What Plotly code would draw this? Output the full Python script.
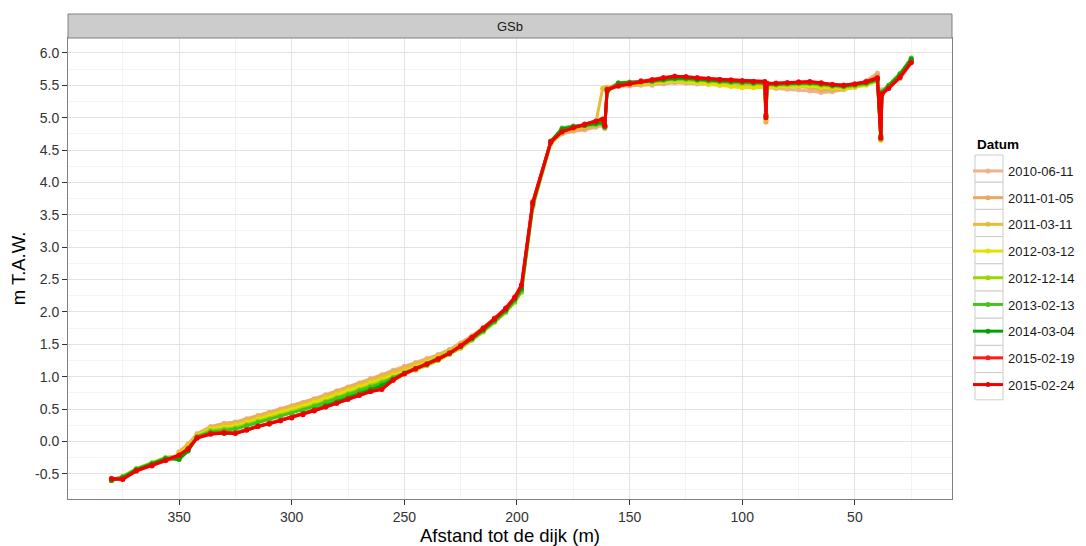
import plotly.graph_objects as go

# ---------------- data ----------------
afstand = [380, 375, 369, 362, 356, 350, 346, 342, 336, 330, 325, 320, 315, 310, 305,
           300, 295, 290, 285, 280, 275, 270, 265, 260, 255, 250, 245, 240, 235, 230,
           225, 220, 215, 210, 205, 201, 198, 193, 185, 180, 175, 170, 165, 162, 161,
           160, 155, 150, 145, 140, 135, 130, 125, 120, 115, 110, 105, 100, 95, 90,
           89.5, 89, 85, 80, 75, 70, 65, 60, 55, 50, 45, 40, 38.5, 38, 35, 30, 25]

datums = ["2010-06-11", "2011-01-05", "2011-03-11", "2012-03-12", "2012-12-14",
          "2013-02-13", "2014-03-04", "2015-02-19", "2015-02-24"]

h_2010_06_11 = [None, None, None, None, None, -0.16, -0.04, 0.12, 0.23, 0.28, 0.30, 0.35, 0.40, 0.45, 0.50,
                0.55, 0.60, 0.66, 0.72, 0.78, 0.84, 0.90, 0.97, 1.03, 1.10, 1.16, 1.22, 1.28, 1.34, 1.42,
                1.52, 1.63, 1.76, 1.90, 2.06, 2.22, 2.38, 3.70, 4.63, 4.75, 4.79, 4.81, 4.85, 4.88, 4.83,
                5.43, 5.48, 5.49, 5.50, 5.50, 5.52, 5.54, 5.53, 5.52, 5.51, 5.50, 5.49, 5.48, 5.47, 5.47,
                4.93, 5.46, 5.45, 5.44, 5.43, 5.41, 5.39, 5.40, 5.43, 5.48, 5.57, 5.69, 4.68, 5.43, 5.48, 5.60, 5.84]
h_2011_01_05 = [None, None, None, None, None, -0.17, -0.05, 0.11, 0.22, 0.27, 0.29, 0.34, 0.39, 0.44, 0.49,
                0.54, 0.59, 0.65, 0.71, 0.77, 0.83, 0.89, 0.95, 1.01, 1.08, 1.14, 1.20, 1.26, 1.33, 1.41,
                1.51, 1.62, 1.75, 1.89, 2.05, 2.21, 2.37, 3.69, 4.62, 4.76, 4.80, 4.83, 4.87, 4.90, 4.84,
                5.44, 5.49, 5.50, 5.51, 5.52, 5.54, 5.56, 5.55, 5.54, 5.53, 5.52, 5.51, 5.50, 5.49, 5.49,
                4.95, 5.48, 5.47, 5.48, 5.48, 5.46, 5.43, 5.43, 5.44, 5.47, 5.54, 5.66, 4.67, 5.41, 5.47, 5.62, 5.86]
h_2011_03_11 = [None, None, None, None, None, -0.18, -0.06, 0.10, 0.21, 0.25, 0.27, 0.32, 0.37, 0.42, 0.47,
                0.52, 0.57, 0.63, 0.69, 0.75, 0.81, 0.87, 0.93, 0.99, 1.06, 1.12, 1.19, 1.25, 1.32, 1.40,
                1.50, 1.62, 1.75, 1.89, 2.04, 2.20, 2.36, 3.67, 4.60, 4.76, 4.82, 4.86, 4.92, 5.45, 5.46,
                5.47, 5.51, 5.52, 5.53, 5.54, 5.56, 5.58, 5.57, 5.56, 5.54, 5.53, 5.52, 5.51, 5.50, 5.50,
                4.97, 5.49, 5.49, 5.50, 5.50, 5.49, 5.46, 5.45, 5.45, 5.47, 5.52, 5.62, 4.66, 5.40, 5.48, 5.64, 5.87]
h_2012_03_12 = [None, None, None, None, None, -0.19, -0.08, 0.09, 0.19, 0.22, 0.24, 0.29, 0.34, 0.39, 0.44,
                0.49, 0.54, 0.60, 0.66, 0.72, 0.78, 0.84, 0.90, 0.95, 1.02, 1.08, 1.15, 1.22, 1.30, 1.38,
                1.48, 1.60, 1.73, 1.87, 2.02, 2.18, 2.34, 3.66, 4.61, 4.78, 4.84, 4.87, 4.90, 4.92, 4.88,
                5.44, 5.50, 5.51, 5.52, 5.53, 5.55, 5.57, 5.56, 5.54, 5.52, 5.50, 5.48, 5.46, 5.46, 5.47,
                4.98, 5.47, 5.47, 5.48, 5.49, 5.49, 5.47, 5.46, 5.45, 5.47, 5.50, 5.56, 4.65, 5.38, 5.47, 5.65, 5.89]
h_2012_12_14 = [-0.59, -0.54, -0.42, -0.33, -0.25, -0.22, -0.10, 0.08, 0.17, 0.19, 0.21, 0.26, 0.31, 0.35, 0.40,
                0.45, 0.50, 0.56, 0.62, 0.68, 0.74, 0.80, 0.86, 0.92, 0.99, 1.04, 1.10, 1.17, 1.25, 1.34,
                1.44, 1.56, 1.69, 1.84, 1.99, 2.15, 2.30, 3.62, 4.60, 4.80, 4.85, 4.87, 4.89, 4.90, 4.86,
                5.45, 5.52, 5.53, 5.54, 5.55, 5.57, 5.59, 5.58, 5.57, 5.56, 5.55, 5.54, 5.53, 5.52, 5.52,
                5.00, 5.50, 5.50, 5.51, 5.52, 5.52, 5.50, 5.48, 5.47, 5.49, 5.52, 5.57, 4.66, 5.39, 5.49, 5.67, 5.91]
h_2013_02_13 = [-0.61, -0.55, -0.43, -0.34, -0.26, -0.26, -0.13, 0.07, 0.15, 0.17, 0.19, 0.24, 0.29, 0.33, 0.38,
                0.43, 0.48, 0.54, 0.60, 0.66, 0.72, 0.78, 0.84, 0.90, 0.98, 1.06, 1.13, 1.20, 1.28, 1.37,
                1.47, 1.58, 1.71, 1.85, 2.01, 2.17, 2.33, 3.64, 4.63, 4.84, 4.87, 4.89, 4.90, 4.91, 4.85,
                5.42, 5.54, 5.55, 5.55, 5.56, 5.58, 5.60, 5.60, 5.58, 5.57, 5.56, 5.55, 5.54, 5.53, 5.53,
                5.03, 5.51, 5.51, 5.52, 5.53, 5.53, 5.51, 5.49, 5.48, 5.50, 5.53, 5.58, 4.70, 5.40, 5.50, 5.68, 5.92]
h_2014_03_04 = [-0.60, -0.56, -0.44, -0.35, -0.27, -0.28, -0.15, 0.06, 0.13, 0.12, 0.13, 0.18, 0.24, 0.27, 0.32,
                0.37, 0.43, 0.49, 0.55, 0.61, 0.67, 0.73, 0.80, 0.86, 0.96, 1.05, 1.12, 1.19, 1.27, 1.36,
                1.47, 1.59, 1.72, 1.87, 2.03, 2.20, 2.36, 3.66, 4.64, 4.82, 4.86, 4.88, 4.91, 4.93, 4.86,
                5.40, 5.53, 5.54, 5.56, 5.57, 5.59, 5.61, 5.61, 5.59, 5.58, 5.57, 5.56, 5.55, 5.54, 5.54,
                5.05, 5.52, 5.52, 5.53, 5.54, 5.54, 5.52, 5.50, 5.49, 5.51, 5.54, 5.59, 4.72, 5.38, 5.48, 5.66, 5.90]
h_2015_02_19 = [-0.57, -0.58, -0.46, -0.38, -0.30, -0.22, -0.11, 0.06, 0.12, 0.14, 0.13, 0.18, 0.23, 0.28, 0.32,
                0.37, 0.42, 0.48, 0.53, 0.59, 0.65, 0.72, 0.77, 0.81, 0.94, 1.04, 1.12, 1.20, 1.28, 1.36,
                1.48, 1.61, 1.75, 1.90, 2.06, 2.23, 2.42, 3.70, 4.63, 4.79, 4.85, 4.90, 4.95, 4.97, 4.87,
                5.44, 5.50, 5.53, 5.57, 5.59, 5.62, 5.64, 5.63, 5.62, 5.60, 5.59, 5.58, 5.57, 5.56, 5.55,
                5.02, 5.52, 5.53, 5.54, 5.55, 5.55, 5.53, 5.51, 5.50, 5.52, 5.56, 5.62, 4.70, 5.37, 5.46, 5.63, 5.86]
h_2015_02_24 = [-0.58, -0.59, -0.45, -0.37, -0.29, -0.21, -0.12, 0.05, 0.11, 0.13, 0.12, 0.17, 0.23, 0.27, 0.32,
                0.36, 0.41, 0.47, 0.53, 0.59, 0.65, 0.71, 0.77, 0.80, 0.95, 1.05, 1.12, 1.19, 1.27, 1.36,
                1.47, 1.60, 1.74, 1.89, 2.05, 2.22, 2.41, 3.68, 4.62, 4.78, 4.84, 4.89, 4.94, 4.98, 4.88,
                5.43, 5.49, 5.52, 5.56, 5.58, 5.61, 5.64, 5.63, 5.61, 5.60, 5.59, 5.58, 5.57, 5.56, 5.56,
                5.00, 5.53, 5.53, 5.54, 5.55, 5.56, 5.54, 5.51, 5.50, 5.52, 5.55, 5.61, 4.68, 5.36, 5.45, 5.62, 5.85]

hoogtes = [h_2010_06_11, h_2011_01_05, h_2011_03_11, h_2012_03_12, h_2012_12_14,
           h_2013_02_13, h_2014_03_04, h_2015_02_19, h_2015_02_24]

kleuren = ["#EDB38F", "#E8AA62", "#E7BD38", "#E3E000", "#9CD600",
           "#46C21E", "#00A300", "#FF1A1A", "#F20000"]

x_ticks = [50, 100, 150, 200, 250, 300, 350]
y_ticks = [-0.5, 0.0, 0.5, 1.0, 1.5, 2.0, 2.5, 3.0, 3.5, 4.0, 4.5, 5.0, 5.5, 6.0]

# ---------------- figure ----------------
# the page body adds an 8px margin; lay out in screen pixels and compensate
OFF = 8
W, H = 1086 - OFF, 546 - OFF
SL, SR, ST, SB = 68, 952, 38, 499          # panel edges in screen pixels
L, R, T, B = SL - OFF, SR - OFF, ST - OFF, SB - OFF
FONT = "Liberation Sans, Arial, Helvetica, sans-serif"

fig = go.Figure()
for d, ys, c in zip(datums, hoogtes, kleuren):
    fig.add_trace(go.Scatter(
        x=afstand, y=ys, name=d, mode="lines+markers",
        line=dict(color=c, width=3), marker=dict(color=c, size=5),
        legendgroup=d, connectgaps=False,
    ))

def px_x(px):
    return (px - SL) / (SR - SL)

def px_y(py):
    return (SB - py) / (SB - ST)

shapes = []
# facet strip
shapes.append(dict(type="rect", xref="paper", yref="paper",
                   x0=0, x1=1, y0=1, y1=px_y(14),
                   fillcolor="#CCCCCC", line=dict(color="#808080", width=1), layer="above"))
# legend key boxes
key_top, key_h = 155, 27.2
for i in range(len(datums)):
    shapes.append(dict(type="rect", xref="paper", yref="paper",
                       x0=px_x(975), x1=px_x(1003),
                       y0=px_y(key_top + key_h * (i + 1)), y1=px_y(key_top + key_h * i),
                       fillcolor="white", line=dict(color="#CCCCCC", width=1), layer="below"))

fig.update_layout(
    width=W, height=H,
    margin=dict(l=L, r=W - R, t=T, b=H - B, pad=0, autoexpand=False),
    paper_bgcolor="white", plot_bgcolor="white",
    font=dict(family=FONT, size=13, color="#333333"),
    shapes=shapes,
    annotations=[
        dict(text="GSb", xref="paper", yref="paper", x=0.5, y=px_y(26),
             showarrow=False, font=dict(size=13, color="#1A1A1A"),
             xanchor="center", yanchor="middle"),
        dict(text="<b>Datum</b>", xref="paper", yref="paper", x=px_x(975), y=px_y(144),
             showarrow=False, font=dict(size=13.5, color="#000000"),
             xanchor="left", yanchor="middle"),
    ],
    showlegend=True,
    legend=dict(
        x=px_x(968), xanchor="left", y=px_y(156), yanchor="top",
        font=dict(size=13, color="#1A1A1A"),
        bgcolor="rgba(0,0,0,0)", tracegroupgap=6.8, itemwidth=30,
    ),
    xaxis=dict(
        range=[399.3, 6.9], tickvals=x_ticks, ticktext=[str(v) for v in x_ticks],
        automargin=False,
        showgrid=True, gridcolor="#E3E3E3", gridwidth=1, zeroline=False,
        minor=dict(dtick=25, tick0=0, showgrid=True, gridcolor="#F3F3F3", ticks=""),
        showline=True, linecolor="#808080", linewidth=1, mirror=True,
        ticks="outside", ticklen=5, tickcolor="#333333", tickwidth=1,
        tickfont=dict(size=14, color="#333333"),
        title=dict(text="Afstand tot de dijk (m)", font=dict(size=18.5, color="#000000"), standoff=6),
    ),
    yaxis=dict(
        range=[-0.89, 6.23], tickvals=y_ticks, ticktext=[f"{v:.1f}" for v in y_ticks],
        automargin=False,
        showgrid=True, gridcolor="#E3E3E3", gridwidth=1, zeroline=False,
        minor=dict(dtick=0.25, tick0=0, showgrid=True, gridcolor="#F3F3F3", ticks=""),
        showline=True, linecolor="#808080", linewidth=1, mirror=True,
        ticks="outside", ticklen=5, tickcolor="#333333", tickwidth=1,
        tickfont=dict(size=14, color="#333333"),
        title=dict(text="m T.A.W.", font=dict(size=18.5, color="#000000"), standoff=7),
    ),
)

fig.write_html("out.html")
